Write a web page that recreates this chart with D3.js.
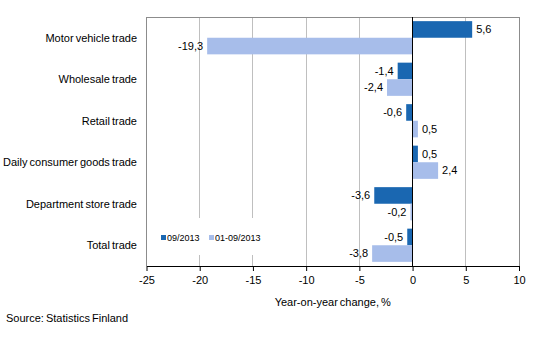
<!DOCTYPE html>
<html><head><meta charset="utf-8">
<script src="https://cdn.jsdelivr.net/npm/d3@7/dist/d3.min.js"></script>
<style>body{margin:0;background:#fff}svg{font-family:"Liberation Sans",Arial,sans-serif}</style>
</head><body><svg id="c" width="534" height="360"></svg>
<script>
const categories = ["Motor vehicle trade","Wholesale trade","Retail trade","Daily consumer goods trade","Department store trade","Total trade"];
const seriesNames = ["09/2013","01-09/2013"];
const month = [5.6,-1.4,-0.6,0.5,-3.6,-0.5];
const ytd = [-19.3,-2.4,0.5,2.4,-0.2,-3.8];
const xTicks = [-25,-20,-15,-10,-5,0,5,10];
const colors = ["#1a67b1","#a7bdea"];

const svg = d3.select("#c");
const m = {l:146.5, r:519, t:17, b:266};
const x = d3.scaleLinear().domain([-25,10]).range([m.l,m.r]);
const y = d3.scaleBand().domain(categories).range([m.t,m.b]).paddingInner(0.2).paddingOuter(0.1);
const y2 = d3.scaleBand().domain([0,1]).range([0,y.bandwidth()]);
const fmt = v => d3.format(".1f")(v).replace(".",",").replace("−","-");

// grid
svg.append("g").selectAll("line").data(xTicks.filter(t=>t!==0 && t!==-25 && t!==10)).join("line")
  .attr("x1",d=>x(d)).attr("x2",d=>x(d)).attr("y1",m.t).attr("y2",m.b)
  .attr("stroke","#bfbfbf").attr("stroke-width",1).attr("shape-rendering","crispEdges");
// frame
svg.append("path").attr("d",`M${m.l},${m.b}V${m.t}H${m.r}V${m.b}`).attr("fill","none")
  .attr("stroke","#8c8c8c").attr("shape-rendering","crispEdges");

// bars
const data = categories.map((c,i)=>({c, vals:[month[i],ytd[i]]}));
const g = svg.append("g");
data.forEach(d=>{
  d.vals.forEach((v,j)=>{
    const yy = y(d.c)+y2(j);
    g.append("rect").attr("x",x(Math.min(0,v))).attr("width",Math.abs(x(v)-x(0)))
      .attr("y",yy).attr("height",y2.bandwidth()).attr("fill",colors[j]);
    g.append("text").attr("x", v>=0 ? x(v)+4 : x(v)-4).attr("y",yy+y2.bandwidth()/2)
      .attr("dy","0.35em").attr("text-anchor", v>=0?"start":"end")
      .attr("font-size",11).attr("fill","#000").text(fmt(v));
  });
});

// zero line
svg.append("line").attr("x1",x(0)).attr("x2",x(0)).attr("y1",m.t).attr("y2",m.b)
  .attr("stroke","#000").attr("shape-rendering","crispEdges");

// legend
const lg = svg.append("g");
lg.append("rect").attr("x",152).attr("y",218).attr("width",118).attr("height",37).attr("fill","#fff");
const lx = [161,209];
seriesNames.forEach((s,j)=>{
  lg.append("rect").attr("x",lx[j]).attr("y",235).attr("width",5).attr("height",5).attr("fill",colors[j]);
  lg.append("text").attr("x",lx[j]+6).attr("y",241).attr("font-size",9).attr("fill","#000").text(s);
});

// x axis
const ax = svg.append("g").attr("transform",`translate(0,${m.b})`)
  .call(d3.axisBottom(x).tickValues(xTicks).tickSize(5).tickSizeOuter(0).tickFormat(d=>String(d)));
ax.select(".domain").attr("stroke","#000");
ax.selectAll(".tick line").attr("stroke","#000");
ax.selectAll(".tick text").attr("font-size",11).attr("fill","#000").attr("dy","0.95em")
  .attr("font-family","Liberation Sans, Arial, sans-serif");

// category labels
svg.append("g").selectAll("text").data(categories).join("text")
  .attr("x",137).attr("y",d=>y(d)+y.bandwidth()/2).attr("dy","0.35em")
  .attr("text-anchor","end").attr("font-size",11).attr("word-spacing","-1").attr("fill","#000").text(d=>d);

svg.append("text").attr("x",x(-7.5)).attr("y",306).attr("text-anchor","middle")
  .attr("font-size",11).attr("word-spacing","-1").text("Year-on-year change, %");
svg.append("text").attr("x",6).attr("y",322).attr("font-size",11).attr("word-spacing","-1").text("Source: Statistics Finland");
</script></body></html>
